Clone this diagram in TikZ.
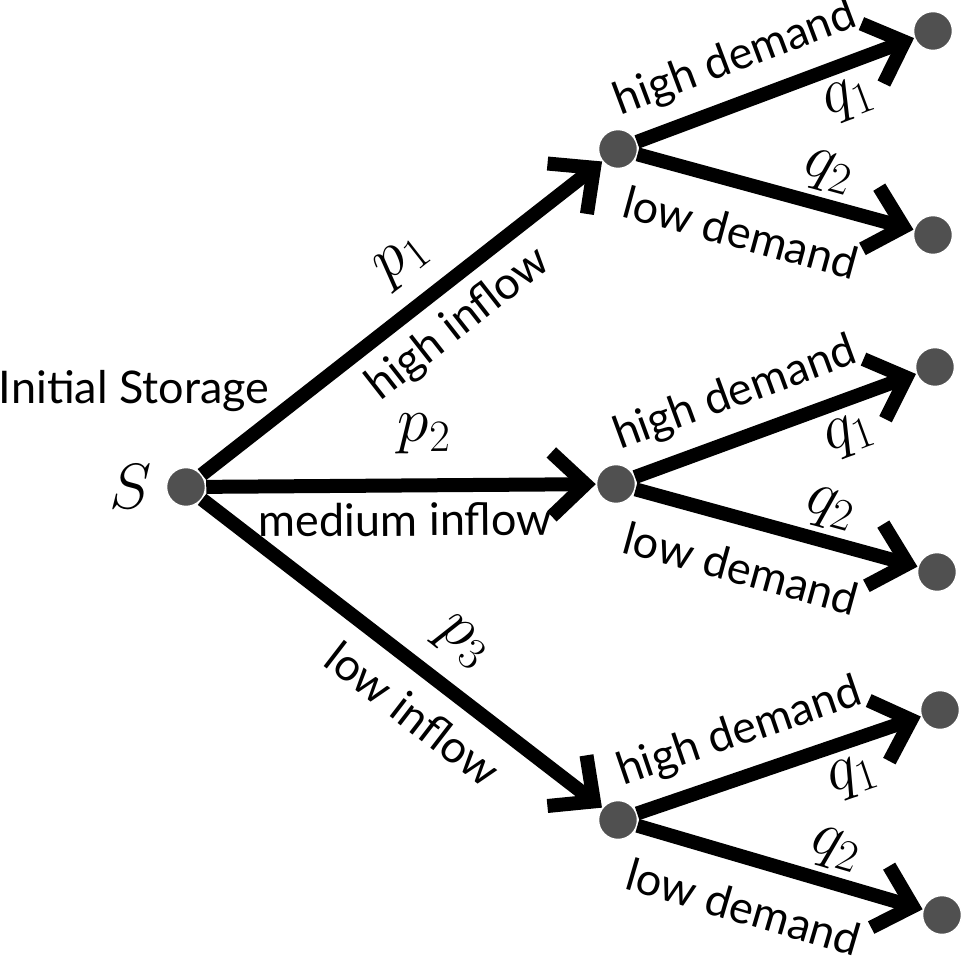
\RequirePackage{fix-cm}
\documentclass[tikz,border=0pt]{standalone}
\usepackage{fontspec}
\setmainfont{Lato}
\usetikzlibrary{arrows.meta,positioning}
\definecolor{dotgray}{HTML}{505050}

\tikzset{
  state/.style={circle, fill=dotgray, draw=white, line width=1.5pt, minimum size=39pt, inner sep=0pt},
  branch/.style={line width=14pt, -{Straight Barb[sharp,length=34pt,width=64pt]}},
  txt/.style={font=\fontsize{45}{52}\selectfont},
  prob/.style={font=\fontsize{64}{76}\selectfont},
}

\begin{document}
\begin{tikzpicture}[x=1pt, y=-1pt, txt]
    \useasboundingbox (0,0) rectangle (962,965);
    % root
    \node[state] (s) at (186,487) {};
    \node[prob, left=10pt of s] (slbl) {$S$};
    \node[above=46pt of slbl, xshift=3pt] (init) {Initial Storage};
    % inflow stage
    \node[state] (m1) at (618,149) {};
    \node[state] (m2) at (616,484) {};
    \node[state] (m3) at (618,820) {};
    % demand stage
    \node[state] (l1) at (933,31) {};
    \node[state] (l2) at (933,235) {};
    \node[state] (l3) at (935,367) {};
    \node[state] (l4) at (937,572) {};
    \node[state] (l5) at (940,710) {};
    \node[state] (l6) at (942,915) {};
    \draw[branch] (s) -- (m1)
        node[prob, pos=.57, sloped, above=14pt] {$p_1$}
        node[pos=.58, sloped, below=9pt] {high inflow};
    \draw[branch] (s) -- (m2)
        node[prob, pos=.56, sloped, above=21pt] {$p_2$}
        node[pos=.51, sloped, below=7pt] {medium inflow};
    \draw[branch] (s) -- (m3)
        node[prob, pos=.58, sloped, above=15pt] {$p_3$}
        node[pos=.59, sloped, below=14pt] {low inflow};
    \foreach \m/\hi/\lo in {m1/l1/l2, m2/l3/l4, m3/l5/l6} {
        \draw[branch] (\m) -- (\hi)
            node[pos=.41, sloped, above=12pt] {high demand}
            node[prob, pos=.72, sloped, below=5pt] {$q_1$};
        \draw[branch] (\m) -- (\lo)
            node[prob, pos=.66, sloped, above=2pt] {$q_2$}
            node[pos=.42, sloped, below=21pt] {low demand};
    }
\end{tikzpicture}
\end{document}
